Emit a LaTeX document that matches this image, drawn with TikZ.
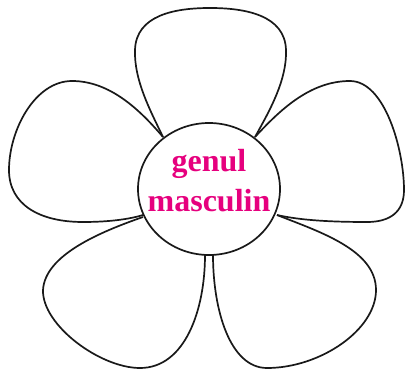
\documentclass[tikz,border=0pt]{standalone}
\usepackage{fontspec}
\setmainfont{Liberation Serif}
\usepackage{xcolor}
\usetikzlibrary{shapes.geometric}
\definecolor{roz}{RGB}{230,0,126}

\begin{document}
\begin{tikzpicture}[x=1pt,y=-1pt,
  petala/.style={draw=black!90,line width=1.7pt,line join=round},
  miez/.style={ellipse,draw=black!90,line width=1.7pt,fill=white,minimum width=142pt,minimum height=132pt,inner sep=0pt},
  eticheta/.style={align=center,text=roz,font=\fontsize{32}{40}\selectfont\bfseries}]
\useasboundingbox (0,0) rectangle (406,371);
% petalele
\draw[petala] (163,137) .. controls (150,110) and (134,80) .. (135,50)
  .. controls (136,15) and (175,8) .. (210,8)
  .. controls (245,8) and (285,15) .. (286,50)
  .. controls (287,80) and (270,110) .. (255,137);
\draw[petala] (163,137) .. controls (140,110) and (110,81) .. (72,81)
  .. controls (35,81) and (9,130) .. (9,170)
  .. controls (9,205) and (40,222) .. (83,222)
  .. controls (110,222) and (130,219) .. (143,215);
\draw[petala] (255,137) .. controls (280,110) and (310,81) .. (350,81)
  .. controls (385,81) and (404,150) .. (404,190)
  .. controls (404,212) and (390,222) .. (367,222)
  .. controls (320,222) and (295,219) .. (277,215);
\draw[petala] (143,217) .. controls (100,232) and (45,255) .. (43,290)
  .. controls (42,325) and (100,368) .. (140,368)
  .. controls (185,368) and (205,310) .. (205,255);
\draw[petala] (213,255) .. controls (213,310) and (230,368) .. (267,368)
  .. controls (320,368) and (376,330) .. (376,290)
  .. controls (376,250) and (320,232) .. (277,215);
% mijlocul florii
\node[miez] (centru) at (209,189) {};
\node[eticheta] (gen) at (209,181) {genul\\masculin};
\end{tikzpicture}
\end{document}
